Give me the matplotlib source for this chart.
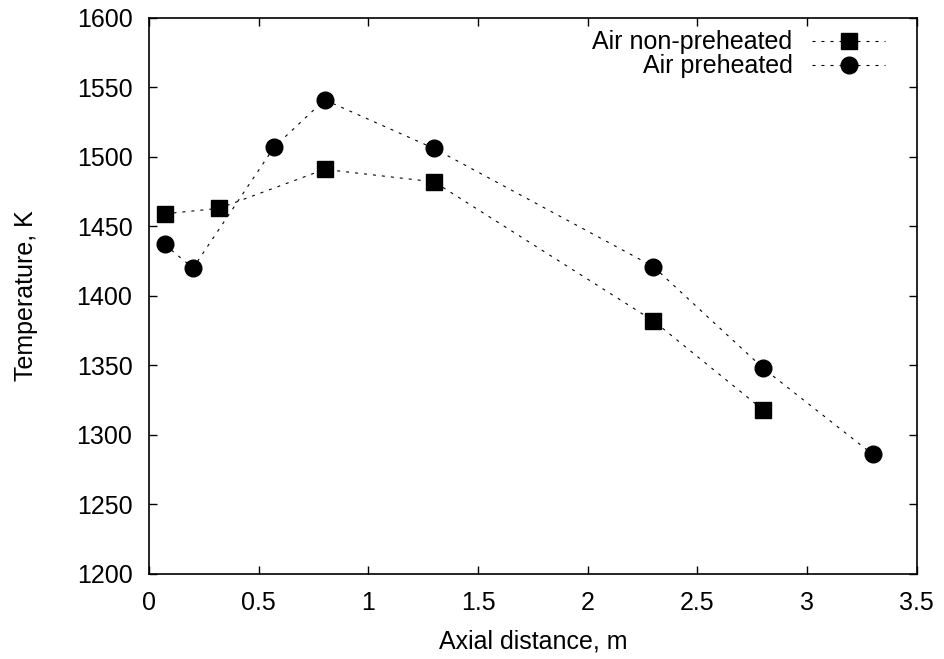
import matplotlib
matplotlib.use('Agg')
from matplotlib import pyplot as plt

plt.rcParams['font.family'] = ['Liberation Sans', 'DejaVu Sans']

# air non-preheated
x_np = [0.07, 0.32, 0.8, 1.3, 2.3, 2.8]
t_np = [1459, 1463, 1491, 1482, 1382, 1318]

# air preheated
x_p = [0.07, 0.2, 0.57, 0.8, 1.3, 2.3, 2.8, 3.3]
t_p = [1437, 1420, 1507, 1541, 1506, 1421, 1348, 1286]

xticks = [0, 0.5, 1, 1.5, 2, 2.5, 3, 3.5]
xticklabels = ['0', '0.5', '1', '1.5', '2', '2.5', '3', '3.5']
yticks = list(range(1200, 1601, 50))

fs = 18

fig = plt.figure(figsize=(9.44, 6.59), dpi=100)
ax = fig.add_axes([0.158, 0.129, 0.813, 0.844])

ls = (0, (2.7, 5.4))
ax.plot(x_np, t_np, color='black', lw=0.8, linestyle=ls, marker='s',
        markersize=12, label='Air non-preheated')
ax.plot(x_p, t_p, color='black', lw=0.8, linestyle=ls, marker='o',
        markersize=12, label='Air preheated')

ax.set_xlim(0, 3.5)
ax.set_ylim(1200, 1600)
ax.set_xticks(xticks)
ax.set_xticklabels(xticklabels)
ax.set_yticks(yticks)
ax.tick_params(direction='in', top=True, right=True, labelsize=fs,
               length=6, width=1, pad=12)
for s in ax.spines.values():
    s.set_linewidth(1.2)

ax.set_xlabel('Axial distance, m', fontsize=fs, labelpad=11)
ax.set_ylabel('Temperature, K', fontsize=fs, labelpad=28)

ax.legend(loc='upper right', bbox_to_anchor=(0.975, 1.0), frameon=False,
          markerfirst=False, fontsize=fs, handlelength=2.9,
          handletextpad=0.8, labelspacing=0.0, borderpad=0.5,
          borderaxespad=0)

fig.savefig('out.png', dpi=100)
